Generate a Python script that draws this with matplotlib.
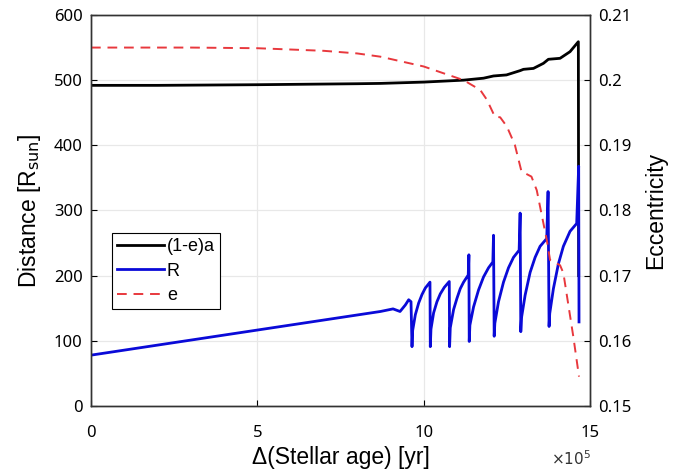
import numpy as np
import matplotlib
matplotlib.use("Agg")
import matplotlib.pyplot as plt

# temps en unites de 1e5 yr
x_a = [0, 2, 5, 8, 8.7, 10, 11.2, 11.8, 12.1, 12.49, 12.9, 13.0, 13.3, 13.6,
       13.75, 14.1, 14.4, 14.65, 14.66]
y_a = [492, 492, 493, 494.5, 495, 497, 500, 503, 506.4, 508, 514.6, 516.6, 518,
       525.8, 532, 533.5, 543.7, 559, 200]

x_R = [0, 8.7, 9.08, 9.29, 9.45, 9.55, 9.62, 9.65, 9.67, 9.75, 9.85, 9.95, 10.05,
       10.19, 10.2, 10.22, 10.3, 10.4, 10.5, 10.62, 10.77, 10.78, 10.8, 10.9, 11.0,
       11.1, 11.2, 11.34, 11.36, 11.37, 11.39, 11.5, 11.65, 11.8, 11.95, 12.08,
       12.1, 12.12, 12.14, 12.25, 12.4, 12.55, 12.7, 12.87, 12.9, 12.92, 12.94,
       13.05, 13.2, 13.35, 13.5, 13.7, 13.74, 13.77, 13.79, 13.9, 14.05, 14.2,
       14.4, 14.6, 14.66, 14.67]
y_R = [78, 145, 149, 145, 155, 163, 160, 91, 116, 140, 158, 171, 181,
       190, 91, 118, 143, 160, 172, 182, 191, 91, 120, 148, 165,
       180, 190, 201, 232, 99, 124, 152, 178, 198, 212, 221,
       262, 107, 127, 160, 190, 212, 228, 239, 296, 114, 135,
       170, 205, 228, 245, 257, 329, 122, 142, 180, 218, 245,
       268, 280, 368, 129]

x_e = [0, 3, 5, 7, 8, 8.7, 10, 11.2, 11.7, 11.9, 12.14, 12.3, 12.5, 12.74, 12.94,
       13.24, 13.4, 13.7, 13.8, 14.1, 14.2, 14.5, 14.67]
y_e = [0.2050, 0.2050, 0.2049, 0.2045, 0.2041, 0.2036, 0.2021, 0.2000, 0.1985,
       0.1970, 0.1944, 0.1943, 0.1929, 0.1901, 0.1860, 0.1852, 0.1831, 0.1755,
       0.1724, 0.1716, 0.1704, 0.1606, 0.1545]

e_ticks = [0.15, 0.16, 0.17, 0.18, 0.19, 0.2, 0.21]
e_labels = ["0.15", "0.16", "0.17", "0.18", "0.19", "0.2", "0.21"]

fig = plt.figure(figsize=(6.85, 4.74), dpi=100)
ax = fig.add_axes([0.1328, 0.1435, 0.7285, 0.8249])
ax2 = ax.twinx()

ax.grid(True, color="#e8e8e8", lw=0.9)
ax.set_axisbelow(True)

l1, = ax.plot(x_a, y_a, color="black", lw=2, label="(1-e)a")
l2, = ax.plot(x_R, y_R, color="#0a0ad8", lw=2, label="R")
l3, = ax2.plot(x_e, y_e, color="#e8383d", lw=1.4, ls=(0, (5, 3.5)), label="e")

ax.set_xlim(0, 15)
ax.set_ylim(0, 600)
ax2.set_ylim(0.15, 0.21)
ax.set_xticks([0, 5, 10, 15])
ax.set_yticks(range(0, 601, 100))
ax2.set_yticks(e_ticks)
ax2.set_yticklabels(e_labels)

tickfont = "Noto Sans"
for lab in ax.get_xticklabels() + ax.get_yticklabels() + ax2.get_yticklabels():
    lab.set_family(tickfont)
    lab.set_fontsize(12)
ax.tick_params(axis="x", direction="in", pad=14, length=4, top=False)
ax.tick_params(axis="y", direction="in", pad=6, length=4)
ax2.tick_params(axis="y", direction="in", pad=6, length=4)
for a in (ax, ax2):
    for s in a.spines.values():
        s.set_color("#333333")
        s.set_linewidth(1)

ax.set_ylabel("Distance [R$_{\\mathrm{sun}}$]", family="Liberation Sans", fontsize=16.5, labelpad=8)
ax2.set_ylabel("Eccentricity", family="Liberation Sans", fontsize=16.5, labelpad=9)
ax.set_xlabel("\u0394(Stellar age) [yr]", family="Liberation Sans", fontsize=16.5, labelpad=3)
fig.text(0.805, 0.018, "$\\times10^5$", fontsize=11, color="#333333")

leg = ax.legend(handles=[l1, l2, l3], loc="upper left", bbox_to_anchor=(0.042, 0.4425),
                prop={"family": "Liberation Sans", "size": 13}, fancybox=False,
                edgecolor="black", framealpha=1, handlelength=2.6, borderpad=0.3,
                labelspacing=0.4, handletextpad=0.15, borderaxespad=0)
leg.get_frame().set_linewidth(0.8)

fig.savefig("out.png", dpi=100)
